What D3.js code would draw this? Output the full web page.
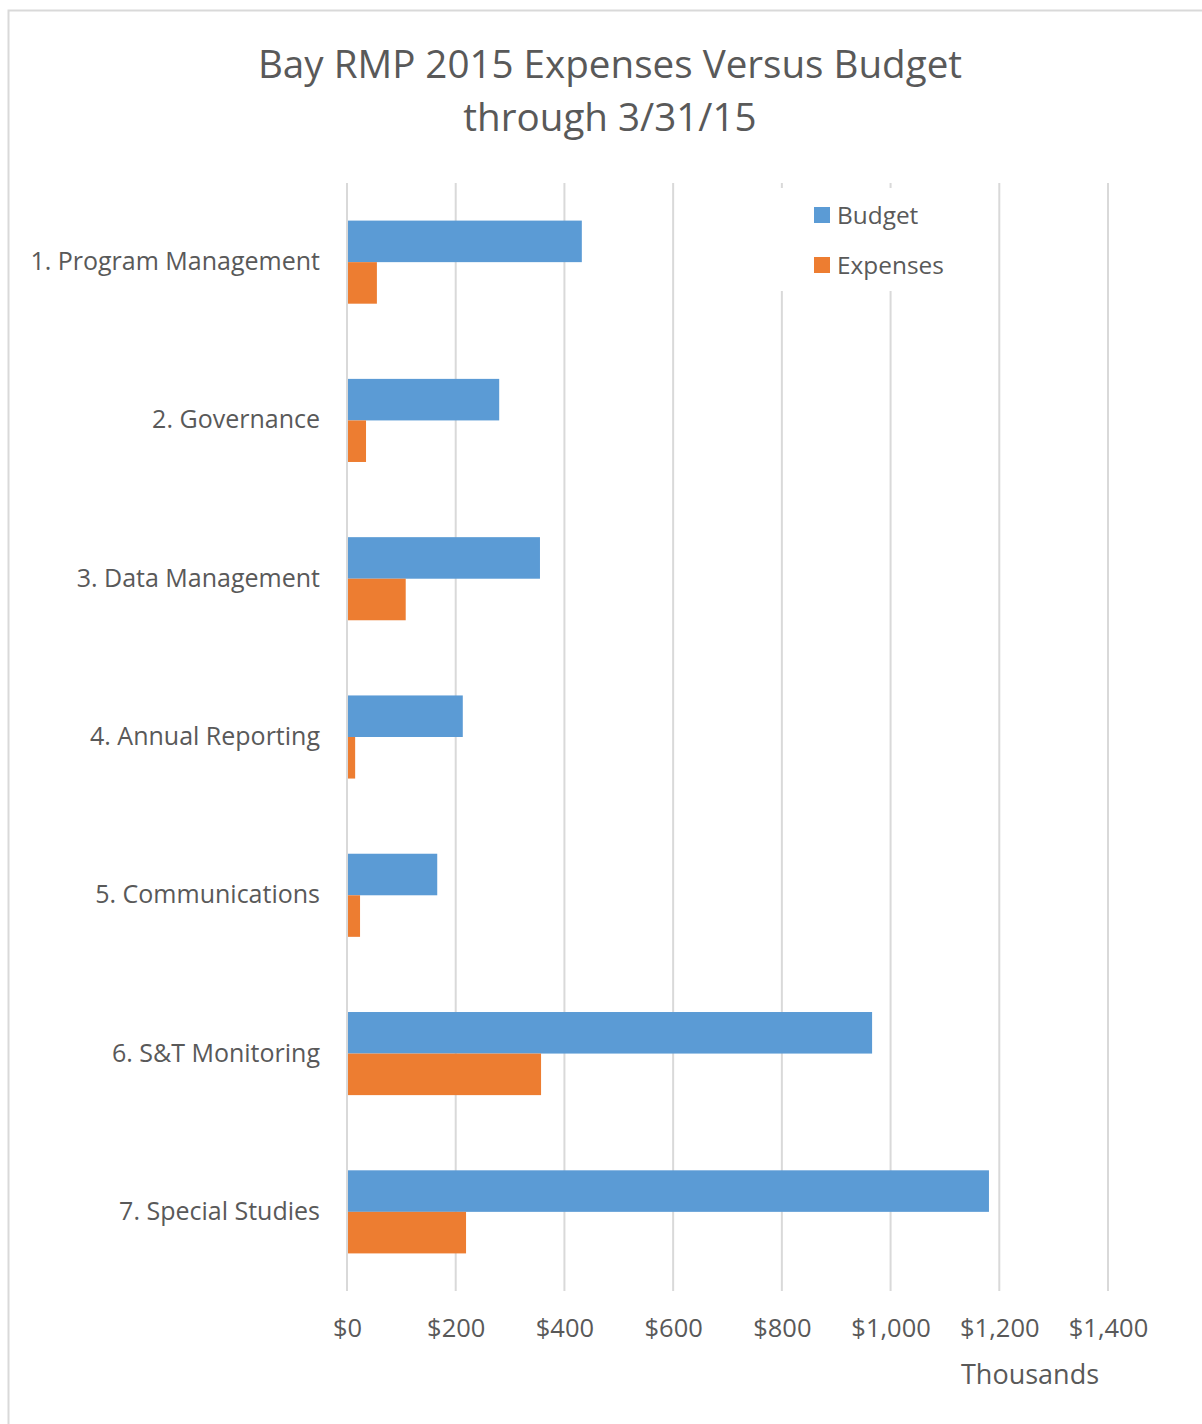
<!DOCTYPE html>
<html>
<head>
<meta charset="utf-8">
<script src="https://cdn.jsdelivr.net/npm/d3@7"></script>
<style>
  body { margin: 0; background: #fff; }
  svg text { font-family: 'Open Sans', sans-serif; fill: #595959; }
</style>
</head>
<body>
<div id="chart"></div>
<script>
const width = 1202;
const height = 1424;
const marginTop = 183;
const marginBottom = 133;
const marginLeft = 347;
const marginRight = 94;

const categories = [
    '1. Program Management',
    '2. Governance',
    '3. Data Management',
    '4. Annual Reporting',
    '5. Communications',
    '6. S&T Monitoring',
    '7. Special Studies',
];
const budget = [432, 280, 355, 213, 166, 966, 1181];
const expenses = [55, 35, 108, 15, 24, 357, 219];
const seriesNames = ['Budget', 'Expenses'];
const seriesColors = ['#5b9bd5', '#ed7d31'];
const xTicks = [0, 200, 400, 600, 800, 1000, 1200, 1400];

const rows = categories.map((c, i) => ({ cat: c, Budget: budget[i], Expenses: expenses[i] }));

const svg = d3.select('#chart')
    .append('svg')
    .attr('width', width)
    .attr('height', height);

// chart border
svg.append('rect')
    .attr('x', 8.5)
    .attr('y', 10.5)
    .attr('width', width + 20)
    .attr('height', height + 20)
    .attr('fill', 'none')
    .attr('stroke', '#d9d9d9')
    .attr('stroke-width', 2);

const x = d3.scaleLinear()
    .domain([0, 1400])
    .range([marginLeft, width - marginRight]);

const y = d3.scaleBand()
    .domain(categories)
    .range([marginTop, height - marginBottom])
    .paddingInner(0.475)
    .paddingOuter(0.2375);

const ySub = d3.scaleBand()
    .domain(seriesNames)
    .range([0, y.bandwidth()]);

const color = d3.scaleOrdinal()
    .domain(seriesNames)
    .range(seriesColors);

// gridlines
svg.append('g')
    .attr('class', 'grid')
    .selectAll('line')
    .data(xTicks)
    .join('line')
    .attr('x1', (d) => x(d))
    .attr('x2', (d) => x(d))
    .attr('y1', marginTop)
    .attr('y2', height - marginBottom)
    .attr('stroke', '#d9d9d9')
    .attr('stroke-width', 2);

// bars
svg.append('g')
    .selectAll('g')
    .data(rows)
    .join('g')
    .attr('transform', (d) => `translate(0,${y(d.cat)})`)
    .selectAll('rect')
    .data((d) => seriesNames.map((s) => ({ key: s, value: d[s] })))
    .join('rect')
    .attr('x', x(0) + 1)
    .attr('y', (d) => ySub(d.key))
    .attr('width', (d) => x(d.value) - x(0) - 1)
    .attr('height', ySub.bandwidth())
    .attr('fill', (d) => color(d.key));

// x axis labels
const xAxis = svg.append('g')
    .attr('class', 'xAxis')
    .attr('transform', `translate(0,${height - marginBottom})`)
    .call(d3.axisBottom(x)
        .tickValues(xTicks)
        .tickSize(0)
        .tickPadding(28)
        .tickFormat((d) => '$' + d3.format(',')(d)));
xAxis.select('.domain').remove();
xAxis.selectAll('text')
    .style('font-size', '25.5px')
    .attr('fill', '#595959');

// y axis labels
const yAxis = svg.append('g')
    .attr('class', 'yAxis')
    .attr('transform', `translate(${marginLeft}, 0)`)
    .call(d3.axisLeft(y).tickSize(0).tickPadding(27));
yAxis.select('.domain').remove();
yAxis.selectAll('text')
    .style('font-size', '25px')
    .attr('fill', '#595959');

svg.append('text')
    .attr('class', 'xlabel')
    .attr('x', 1030)
    .attr('y', 1384)
    .text('Thousands')
    .style('font-size', '27px')
    .style('text-anchor', 'middle');

// title
svg.append('text')
    .attr('class', 'title')
    .attr('x', 610)
    .attr('y', 78)
    .text('Bay RMP 2015 Expenses Versus Budget')
    .style('font-size', '38.6px')
    .style('text-anchor', 'middle');
svg.append('text')
    .attr('class', 'title')
    .attr('x', 610)
    .attr('y', 131)
    .text('through 3/31/15')
    .style('font-size', '38.6px')
    .style('text-anchor', 'middle');

// legend
const legend = svg.append('g')
    .attr('class', 'legend')
    .attr('transform', 'translate(780,188)');
legend.append('rect')
    .attr('width', 180)
    .attr('height', 103)
    .attr('fill', '#fff');
const items = legend.selectAll('.item')
    .data(seriesNames)
    .join('g')
    .attr('class', 'item')
    .attr('transform', (d, i) => `translate(34,${19 + i * 50})`);
items.append('rect')
    .attr('width', 16)
    .attr('height', 16)
    .attr('fill', (d) => color(d));
items.append('text')
    .attr('x', 23)
    .attr('y', 17)
    .text((d) => d)
    .style('font-size', '24.4px');
</script>
</body>
</html>
